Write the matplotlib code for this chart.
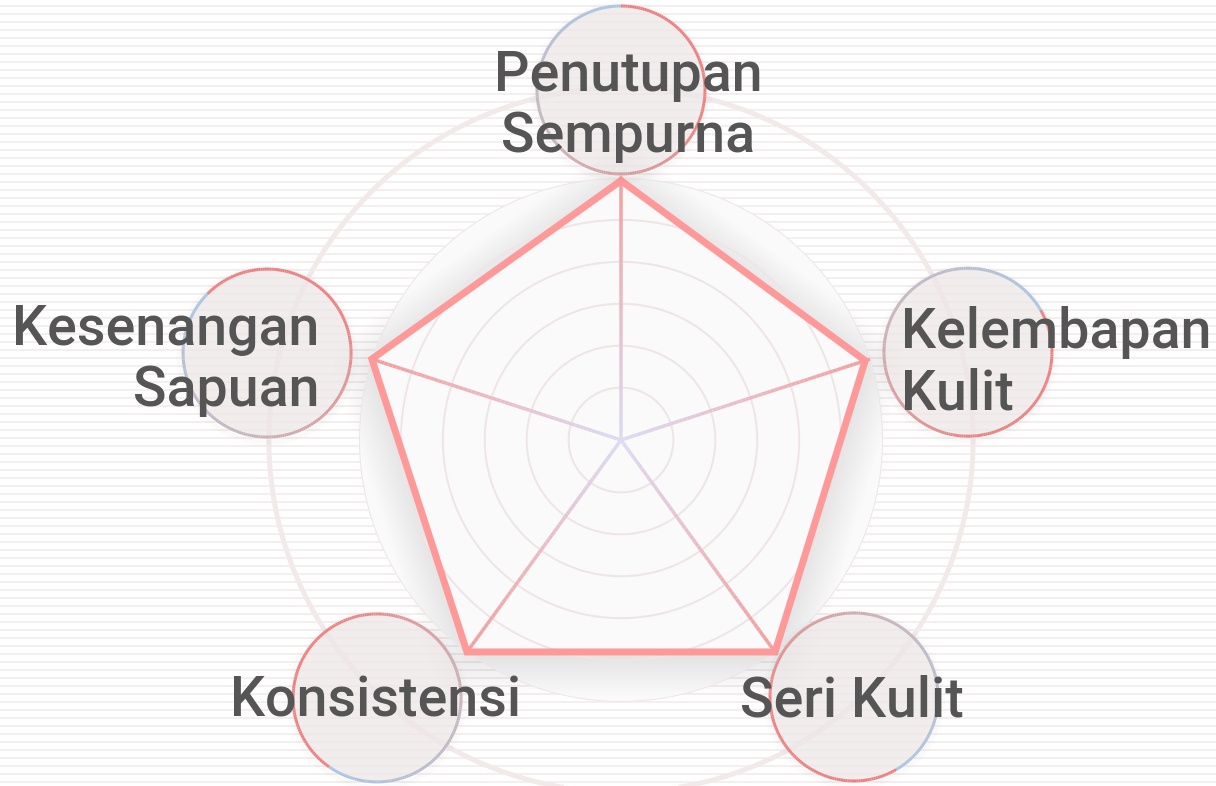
import numpy as np
import matplotlib
matplotlib.use("Agg")
import matplotlib.pyplot as plt
from matplotlib.collections import LineCollection
from matplotlib.patches import Circle
from matplotlib.transforms import IdentityTransform, ScaledTranslation
from matplotlib.colors import to_rgb

# ---------------- data ----------------
categories = ["Penutupan\nSempurna", "Kelembapan\nKulit", "Seri Kulit",
              "Konsistensi", "Kesenangan\nSapuan"]
values = [99, 98, 100, 100, 100]
ring_levels = [20, 36, 52, 68, 84, 100]
r_max = 100

# ---------------- layout / style ----------------
W, H, DPI = 1216, 786, 100
CX, CY, RPX = 621, 440, 262          # radar centre (image px, y down) and radius of r_max
outer_ring_r = 134.4                 # in data units
bubble_pos = [(90, 133.6), (14.2, 136.6), (-47.8, 132.4), (226.6, 135.5), (166.2, 139.1)]
bubble_break = [90, 30, 300, 235, 135]
bubble_radius_px = 84
label_align = ["center", "left", "center", "center", "right"]
label_offset = [(7, 1), (-67, -4), (-2, 20), (-2, 19), (52, -8)]
line_gap = 61
font_family = ["Roboto", "DejaVu Sans"]
text_color = "#555555"
line_color = "#ff9999"

PT = 72.0 / DPI   # points per pixel

fig = plt.figure(figsize=(W / DPI, H / DPI), dpi=DPI)
fig.patch.set_facecolor("white")

# striped background
bg = fig.add_axes([0, 0, 1, 1])
bg.set_xlim(0, W)
bg.set_ylim(H, 0)
bg.axis("off")
bg.set_zorder(-1)
bg.hlines(np.arange(6, H, 8), 0, W, colors="#f5eeef", linewidth=2 * PT)

# radar axes
ax = fig.add_axes([(CX - RPX) / W, (H - CY - RPX) / H, 2 * RPX / W, 2 * RPX / H],
                  projection="polar")
ax.set_theta_offset(np.pi / 2)
ax.set_theta_direction(-1)
ax.set_ylim(0, r_max)
ax.set_facecolor("#fafafa")
ax.spines["polar"].set_visible(False)
ax.set_xticks([])
ax.set_yticks([])
ax.grid(False)

n = len(categories)
theta = np.linspace(0, 2 * np.pi, n, endpoint=False)
tc = np.append(theta, theta[0])
vc = np.append(values, values[0])

# outer decorative ring
tt = np.linspace(0, 2 * np.pi, 720)
ax.plot(tt, np.full_like(tt, outer_ring_r), color="#f2eaea", lw=5 * PT,
        clip_on=False, zorder=0.5)

# soft shadow of the radar area
shadow_tr = ax.transData + ScaledTranslation(0, -4 / 72, fig.dpi_scale_trans)
N_SH, BLUR = 22, 38
for i in range(N_SH):
    w = 2 * BLUR * (i + 1) / N_SH
    ax.plot(tc, vc, color="black", alpha=0.005, lw=w * PT, solid_joinstyle="round",
            transform=shadow_tr, clip_on=False, zorder=1)
ax.fill(tc, vc, color="#fafafa", lw=0, zorder=2)

# grid rings
for lv in ring_levels:
    ax.plot(tt, np.full_like(tt, lv), color="#eee6e6", lw=2 * PT, zorder=3)

# gradient spokes
c_in = np.array(to_rgb("#dcdcf2"))
c_out = np.array(to_rgb("#f59c9c"))
segs, cols = [], []
rs = np.linspace(0, r_max, 61)
for th in theta:
    for k in range(len(rs) - 1):
        segs.append([(th, rs[k]), (th, rs[k + 1])])
        f = (rs[k] + rs[k + 1]) / 2 / r_max
        cols.append(c_in + (c_out - c_in) * f)
lc = LineCollection(segs, colors=cols, linewidths=3.5 * PT, zorder=4,
                    transform=ax.transData, capstyle="butt")
ax.add_collection(lc)

# radar line
ax.plot(tc, vc, color=line_color, lw=7 * PT, solid_joinstyle="miter", zorder=5,
        clip_on=False)
ax.set_ylim(0, r_max)

# ---------------- label bubbles ----------------
blue = np.array([168, 198, 228]) / 255
grey = np.array([200, 180, 186]) / 255
red = np.array([236, 128, 128]) / 255


def grad(f):
    if f < 0.35:
        return blue + (grey - blue) * f / 0.35
    if f < 0.7:
        return grey + (red - grey) * (f - 0.35) / 0.35
    return red


for i, (phi, rr) in enumerate(bubble_pos):
    x, y = ax.transData.transform((np.pi / 2 - np.deg2rad(phi), rr))
    # faint shadow
    for k, a in enumerate([0.025, 0.018, 0.012]):
        fig.add_artist(Circle((x, y - 2), bubble_radius_px + 2 + 2 * k, transform=IdentityTransform(),
                              facecolor="none", edgecolor=(0, 0, 0, a), lw=2 * PT, zorder=1.5))
    fig.add_artist(Circle((x, y), bubble_radius_px, transform=IdentityTransform(),
                          facecolor=(0.925, 0.9, 0.9, 0.72), edgecolor="none", zorder=2))
    a0 = bubble_break[i]
    NS = 240
    angs = np.deg2rad(a0 + np.linspace(0, 360, NS + 1))
    pts = np.column_stack([x + bubble_radius_px * np.cos(angs), y + bubble_radius_px * np.sin(angs)])
    bsegs = [[pts[k], pts[k + 1]] for k in range(NS)]
    bcols = [grad((k + 0.5) / NS) for k in range(NS)]
    fig.add_artist(LineCollection(bsegs, colors=bcols, linewidths=3 * PT,
                                  transform=IdentityTransform(), zorder=2.5))

    # label text
    dx, dy = label_offset[i]
    for j, line in enumerate(categories[i].split("\n")):
        tx = x + dx
        ty = y - (dy + j * line_gap)
        fx, fy = fig.transFigure.inverted().transform((tx, ty))
        fig.text(fx, fy, line, ha=label_align[i], va="baseline", fontsize=40,
                 color=text_color, family=font_family, fontweight="medium", zorder=4)

fig.savefig("out.png", dpi=DPI, facecolor="white")
